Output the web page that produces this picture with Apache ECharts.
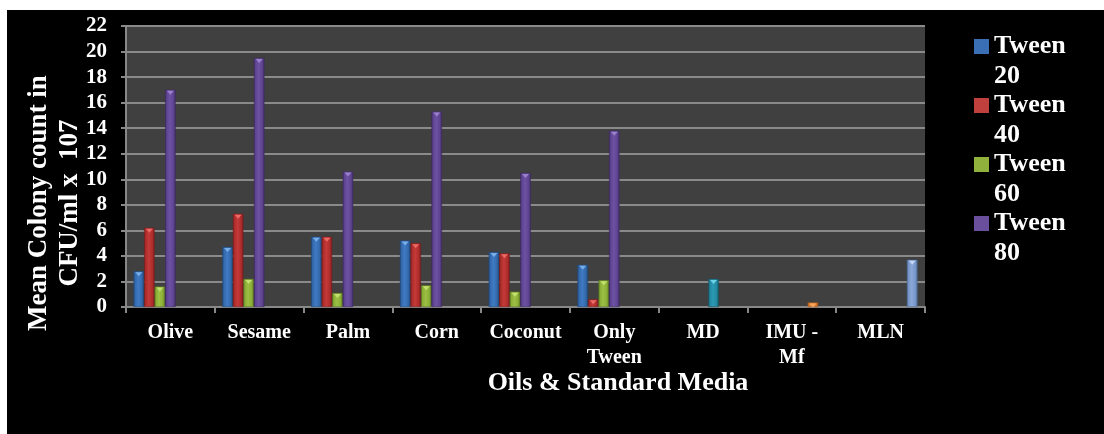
<!DOCTYPE html>
<html>
<head>
<meta charset="utf-8">
<script src="https://cdn.jsdelivr.net/npm/echarts@6/dist/echarts.min.js"></script>
<style>
  html, body { margin: 0; padding: 0; background: #fff; }
  #chart { width: 1104px; height: 434px; }
</style>
</head>
<body>
<div id="chart"></div>
<script>
const categories = ['Olive', 'Sesame', 'Palm', 'Corn', 'Coconut', 'Only\nTween', 'MD', 'IMU -\nMf', 'MLN']
const tween20 = [2.8, 4.7, 5.5, 5.2, 4.3, 3.3, '-', '-', '-']
const tween40 = [6.2, 7.3, 5.5, 5.0, 4.2, 0.6, '-', '-', '-']
const tween60 = [1.6, 2.2, 1.1, 1.7, 1.2, 2.1, '-', '-', '-']
const tween80 = [17.0, 19.5, 10.6, 15.3, 10.5, 13.8, '-', '-', '-']
const mdValues = ['-', '-', '-', '-', '-', '-', 2.2, '-', '-']
const imuValues = ['-', '-', '-', '-', '-', '-', '-', 0.35, '-']
const mlnValues = ['-', '-', '-', '-', '-', '-', '-', '-', 3.7]
const yTicks = { min: 0, max: 22, interval: 2 }

const font = 'Liberation Serif, Times New Roman, serif'

// 斜面效果：左右暗、中间亮
const bevel = (edge, mid, light) => ({
  type: 'linear', x: 0, y: 0, x2: 1, y2: 0,
  colorStops: [
    { offset: 0, color: edge },
    { offset: 0.15, color: mid },
    { offset: 0.45, color: light },
    { offset: 0.8, color: mid },
    { offset: 1, color: edge }
  ]
})

const palette = [
  { name: 'Tween 20', data: tween20, c: ['#1f4a80', '#3468aa', '#3f7bc4'], tip: '#78aee8', solid: '#3a6fb5' },
  { name: 'Tween 40', data: tween40, c: ['#7a1c1c', '#ad2c2c', '#c43a38'], tip: '#ec6a66', solid: '#c0403d' },
  { name: 'Tween 60', data: tween60, c: ['#5b7621', '#8aad36', '#9cc044'], tip: '#c2e070', solid: '#90b23c' },
  { name: 'Tween 80', data: tween80, c: ['#3e2a62', '#5d4390', '#6c52a2'], tip: '#9a80cc', solid: '#6a509c' },
  { name: 'MD', data: mdValues, c: ['#135666', '#2388a0', '#2c9ab4'], tip: '#6cd0e6' },
  { name: 'IMU - Mf', data: imuValues, c: ['#a85a1c', '#e07b2c', '#ee8c3a'], tip: '#f6a560' },
  { name: 'MLN', data: mlnValues, c: ['#51709e', '#7896c8', '#8aa8d8'], tip: '#c4d6f4' }
]

const barSeries = palette.map((p) => ({
  name: p.name,
  type: 'bar',
  data: p.data,
  barGap: '0%',
  barCategoryGap: '17%',
  itemStyle: { color: bevel(p.c[0], p.c[1], p.c[2]), borderColor: p.c[0], borderWidth: 0.5 }
}))

// 柱顶的小三角
const tipSeries = palette.map((p) => ({
  name: p.name,
  type: 'pictorialBar',
  data: p.data,
  barGap: '0%',
  barCategoryGap: '17%',
  symbol: 'triangle',
  symbolRotate: 180,
  symbolSize: [7, 4],
  symbolPosition: 'end',
  symbolOffset: [0, 1],
  z: 3,
  itemStyle: { color: p.tip }
}))

const chart = echarts.init(document.getElementById('chart'))

chart.setOption({
  backgroundColor: '#000',
  animation: false,
  grid: {
    left: 126, top: 26, width: 799, height: 281,
    show: true, backgroundColor: '#404040', borderWidth: 0
  },
  legend: {
    orient: 'vertical',
    left: 974, top: 32,
    padding: 0,
    itemGap: 0,
    itemWidth: 15,
    itemHeight: 59,
    icon: 'path://M0,0h0.01v0.01h-0.01Z M0,7H15V22H0Z M0,58.99h0.01V59h-0.01Z',
    itemStyle: { borderWidth: 0 },
    formatter: (name) => name.replace(' ', '\n'),
    textStyle: { color: '#fff', fontFamily: font, fontWeight: 'bold', fontSize: 26, lineHeight: 29.5 },
    data: palette.slice(0, 4).map((p) => ({ name: p.name, itemStyle: { color: p.solid, borderWidth: 0 } }))
  },
  xAxis: {
    type: 'category',
    data: categories,
    axisLine: { lineStyle: { color: '#888', width: 2 } },
    axisTick: { show: true, length: 6, lineStyle: { color: '#888', width: 2 } },
    axisLabel: { color: '#fff', fontFamily: font, fontWeight: 'bold', fontSize: 20, lineHeight: 25, margin: 13, interval: 0 }
  },
  yAxis: {
    type: 'value',
    min: yTicks.min, max: yTicks.max, interval: yTicks.interval,
    axisLine: { show: true, lineStyle: { color: '#888', width: 2 } },
    axisTick: { show: true, length: 5, lineStyle: { color: '#888', width: 2 } },
    axisLabel: { color: '#fff', fontFamily: font, fontWeight: 'bold', fontSize: 21, margin: 19 },
    splitLine: { lineStyle: { color: '#8a8a8a', width: 2 } }
  },
  graphic: [
    { type: 'rect', shape: { x: 0, y: 0, width: 1104, height: 10 }, style: { fill: '#fff' } },
    { type: 'rect', shape: { x: 0, y: 0, width: 7, height: 434 }, style: { fill: '#fff' } },
    {
      type: 'text', x: 55, y: 203, rotation: Math.PI / 2,
      style: {
        text: 'Mean Colony count in\nCFU/ml x  107',
        fill: '#fff', font: 'bold 27px ' + font, lineHeight: 31,
        align: 'center', verticalAlign: 'middle'
      }
    },
    {
      type: 'text', x: 618, y: 383,
      style: {
        text: 'Oils & Standard Media',
        fill: '#fff', font: 'bold 26px ' + font,
        align: 'center', verticalAlign: 'middle'
      }
    }
  ],
  series: barSeries.concat(tipSeries)
})
</script>
</body>
</html>
